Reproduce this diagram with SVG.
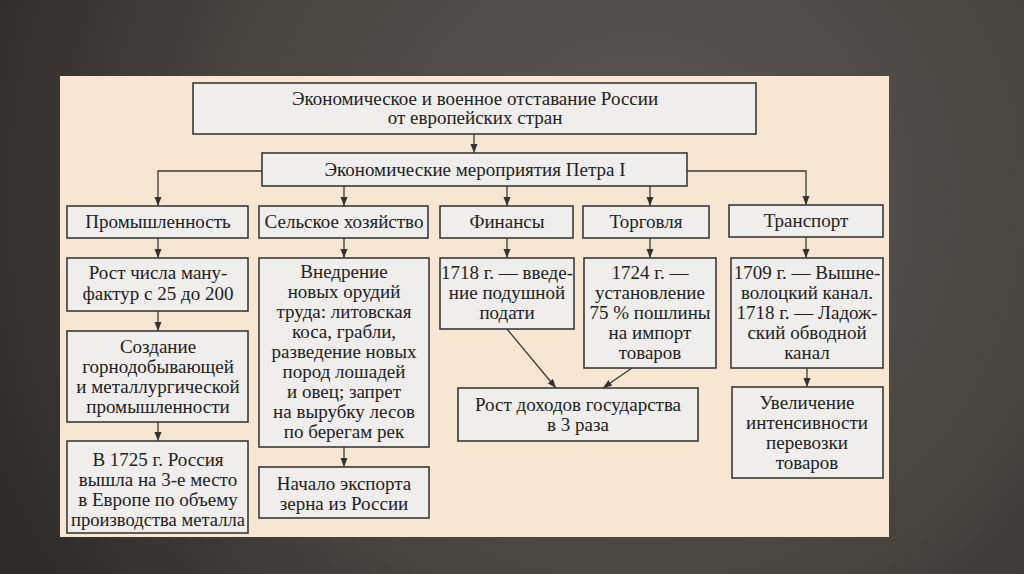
<svg xmlns="http://www.w3.org/2000/svg" width="1024" height="574" viewBox="0 0 1024 574">
<defs>
<radialGradient id="bg" cx="640" cy="200" r="720" gradientUnits="userSpaceOnUse">
<stop offset="0" stop-color="#5b5754"/>
<stop offset="0.6" stop-color="#47433f"/>
<stop offset="1" stop-color="#2c2a29"/>
</radialGradient>
<marker id="ah" markerUnits="userSpaceOnUse" markerWidth="8" markerHeight="9" refX="9" refY="3.5" orient="auto">
<path d="M0,0 L9,3.5 L0,7 z" fill="#333"/>
</marker>
<style>
.box{fill:#efeeec;stroke:#3a3a3a;stroke-width:1.6}
.t{font-family:"Liberation Serif","Times New Roman",serif;font-size:19px;fill:#222;text-anchor:middle}
.c{fill:none;stroke:#3a3a3a;stroke-width:1.3;marker-end:url(#ah)}
</style>
</defs>
<rect x="0" y="0" width="1024" height="574" fill="url(#bg)"/>
<rect x="60" y="76" width="829" height="461" fill="#f7e7d2"/>

<g id="connectors">
<path class="c" d="M474,134 V153"/>
<path class="c" d="M262,171 H158 V206"/>
<path class="c" d="M687,171 H806 V205"/>
<path class="c" d="M344,186 V206"/>
<path class="c" d="M507,186 V206"/>
<path class="c" d="M650,186 V206"/>
<path class="c" d="M158,238 V258"/>
<path class="c" d="M344,238 V258"/>
<path class="c" d="M507,238 V258"/>
<path class="c" d="M650,238 V258"/>
<path class="c" d="M806,237 V258"/>
<path class="c" d="M158,311 V331"/>
<path class="c" d="M158,422 V441"/>
<path class="c" d="M344,447 V467"/>
<path class="c" d="M507,329 L556,388"/>
<path class="c" d="M632,368 L603,388"/>
<path class="c" d="M807,368 V387"/>
</g>

<g id="n_root">
<rect class="box" x="193" y="83" width="563" height="51"/>
<text class="t" x="475" y="105">Экономическое и военное отставание России</text>
<text class="t" x="475" y="124">от европейских стран</text>
</g>
<g id="n_peter">
<rect class="box" x="262" y="153" width="425" height="33"/>
<text class="t" x="475" y="176">Экономические мероприятия Петра I</text>
</g>

<g id="n_industry">
<rect class="box" x="67" y="206" width="181" height="32"/>
<text class="t" x="158" y="228">Промышленность</text>
</g>
<g id="n_agri">
<rect class="box" x="259" y="206" width="169" height="32"/>
<text class="t" x="344" y="228">Сельское хозяйство</text>
</g>
<g id="n_fin">
<rect class="box" x="440" y="206" width="133" height="32"/>
<text class="t" x="507" y="228">Финансы</text>
</g>
<g id="n_trade">
<rect class="box" x="583" y="206" width="126" height="32"/>
<text class="t" x="646" y="228">Торговля</text>
</g>
<g id="n_transport">
<rect class="box" x="729" y="205" width="154" height="32"/>
<text class="t" x="806" y="227">Транспорт</text>
</g>

<g id="n_manuf">
<rect class="box" x="67" y="258" width="181" height="53"/>
<text class="t" x="158" y="279">Рост числа ману-</text>
<text class="t" x="158" y="300">фактур с 25 до 200</text>
</g>
<g id="n_mining">
<rect class="box" x="67" y="331" width="181" height="91"/>
<text class="t" x="158" y="353">Создание</text>
<text class="t" x="158" y="373">горнодобывающей</text>
<text class="t" x="158" y="393">и металлургической</text>
<text class="t" x="158" y="413">промышленности</text>
</g>
<g id="n_metal">
<rect class="box" x="67" y="441" width="181" height="92"/>
<text class="t" x="158" y="466">В 1725 г. Россия</text>
<text class="t" x="158" y="486">вышла на 3-е место</text>
<text class="t" x="158" y="506">в Европе по объему</text>
<text class="t" x="158" y="526" textLength="174" lengthAdjust="spacingAndGlyphs">производства металла</text>
</g>

<g id="n_tools">
<rect class="box" x="259" y="258" width="170" height="189"/>
<text class="t" x="344" y="278">Внедрение</text>
<text class="t" x="344" y="298">новых орудий</text>
<text class="t" x="344" y="318">труда: литовская</text>
<text class="t" x="344" y="338">коса, грабли,</text>
<text class="t" x="344" y="358">разведение новых</text>
<text class="t" x="344" y="378">пород лошадей</text>
<text class="t" x="344" y="398">и овец; запрет</text>
<text class="t" x="344" y="418">на вырубку лесов</text>
<text class="t" x="344" y="438">по берегам рек</text>
</g>
<g id="n_export">
<rect class="box" x="259" y="467" width="170" height="51"/>
<text class="t" x="344" y="490">Начало экспорта</text>
<text class="t" x="344" y="510">зерна из России</text>
</g>

<g id="n_tax">
<rect class="box" x="440" y="258" width="134" height="71"/>
<text class="t" x="507" y="279">1718 г. — введе-</text>
<text class="t" x="507" y="299">ние подушной</text>
<text class="t" x="507" y="319">подати</text>
</g>
<g id="n_duty">
<rect class="box" x="584" y="258" width="132" height="110"/>
<text class="t" x="650" y="279">1724 г. —</text>
<text class="t" x="650" y="299">установление</text>
<text class="t" x="650" y="319">75 % пошлины</text>
<text class="t" x="650" y="339">на импорт</text>
<text class="t" x="650" y="359">товаров</text>
</g>
<g id="n_canal">
<rect class="box" x="731" y="258" width="152" height="110"/>
<text class="t" x="807" y="279">1709 г. — Вышне-</text>
<text class="t" x="807" y="299">волоцкий канал.</text>
<text class="t" x="807" y="319">1718 г. — Ладож-</text>
<text class="t" x="807" y="339">ский обводной</text>
<text class="t" x="807" y="359">канал</text>
</g>

<g id="n_income">
<rect class="box" x="458" y="388" width="240" height="53"/>
<text class="t" x="578" y="411">Рост доходов государства</text>
<text class="t" x="578" y="431">в 3 раза</text>
</g>
<g id="n_traffic">
<rect class="box" x="732" y="387" width="151" height="91"/>
<text class="t" x="807" y="409">Увеличение</text>
<text class="t" x="807" y="429">интенсивности</text>
<text class="t" x="807" y="449">перевозки</text>
<text class="t" x="807" y="469">товаров</text>
</g>
</svg>
